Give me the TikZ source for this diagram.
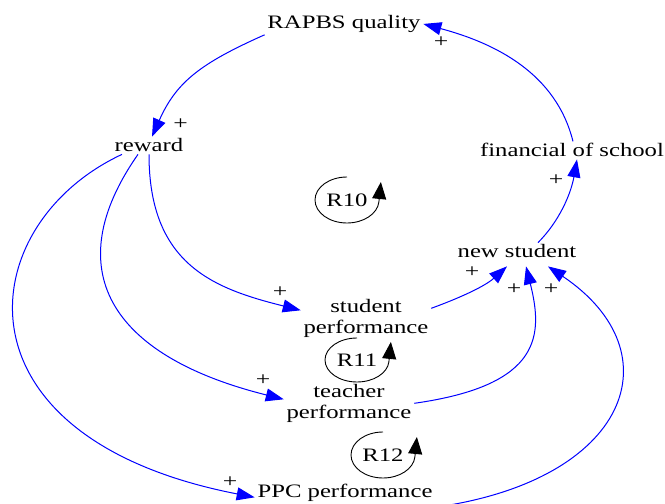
\documentclass[tikz,border=0pt]{standalone}
\usepackage{fontspec}
\setmainfont{Liberation Serif}
\usetikzlibrary{arrows.meta}

\tikzset{
  var/.style={font=\fontsize{19}{21.5}\selectfont, xscale=1.3, inner sep=2pt, align=center},
  link/.style={draw=blue, line width=1pt, -{Triangle[length=18pt,width=13pt]}},
  pol/.style={font=\fontsize{19}{21}\selectfont, xscale=1.35, inner sep=0pt},
  loopname/.style={font=\fontsize{19}{21.5}\selectfont, xscale=1.3, inner sep=1pt},
  looparc/.style={draw=black, line width=0.9pt, -{Triangle[length=17pt,width=14pt]}},
}

\begin{document}
\begin{tikzpicture}[x=1pt,y=1pt]
\useasboundingbox (0,0) rectangle (665,504);

% variables
\node[var, anchor=base] (rapbs) at (344,475.5) {RAPBS quality};
\node[var, anchor=base] (reward) at (149,352) {reward};
\node[var, anchor=base] (fin) at (572,347) {financial of school};
\node[var, anchor=base] (newst) at (517,246) {new student};
\node[var] (stud) at (366,185.7) {student\\performance};
\node[var] (teach) at (349,100.7) {teacher\\performance};
\node[var, anchor=base] (ppc) at (345,6) {PPC performance};

% links
\draw[link] (rapbs.south west) .. controls +(204:70) and +(66:60) .. ([xshift=3pt]reward.north);
\draw[link] ([xshift=1pt]fin.north) .. controls +(104:70) and +(-15:75) .. (rapbs.east);
\draw[link] ([xshift=21pt]newst.north) .. controls +(45:30) and +(260:35) .. ([xshift=5pt]fin.south);
\draw[link] ([yshift=10pt]stud.east) .. controls +(20:30) and +(222:30) .. ([shift={(-10pt,-6pt)}]newst.south);
\draw[link] (teach.east) .. controls +(8:130) and +(-76:70) .. ([shift={(9pt,-6pt)}]newst.south);
\draw[link] ([yshift=-3pt]ppc.south east) .. controls +(8:195) and +(-34:155) .. ([shift={(31pt,-6pt)}]newst.south);
\draw[link] (reward.south) .. controls +(-90:110) and +(166:90) .. ([yshift=8pt]stud.west);
\draw[link] ([xshift=-11pt]reward.south) .. controls +(235:140) and +(166:180) .. ([yshift=4pt]teach.west);
\draw[link] ([xshift=-27pt]reward.south) .. controls +(205:165) and +(169:315) .. ([yshift=-4pt]ppc.west);

% polarities
\node[pol] (p1) at (180.5,380) {+};
\node[pol] (p2) at (441,462) {+};
\node[pol] (p3) at (556,324) {+};
\node[pol] (p4) at (472,232) {+};
\node[pol] (p5) at (514,215) {+};
\node[pol] (p6) at (551,215) {+};
\node[pol] (p7) at (280,212) {+};
\node[pol] (p8) at (263,124) {+};
\node[pol] (p9) at (230,22) {+};

% loops
\node[loopname] (r10) at (347,304) {R10};
\node[loopname] (r11) at (357,144) {R11};
\node[loopname] (r12) at (383,49) {R12};
\draw[looparc] ([yshift=23pt]r10.center) arc[start angle=90, end angle=355, x radius=32pt, y radius=23pt] -- ++(2,20);
\draw[looparc] ([yshift=22pt]r11.center) arc[start angle=90, end angle=355, x radius=32pt, y radius=22pt] -- ++(2,20);
\draw[looparc] ([yshift=23pt]r12.center) arc[start angle=90, end angle=355, x radius=32pt, y radius=23pt] -- ++(2,20);
\end{tikzpicture}
\end{document}
